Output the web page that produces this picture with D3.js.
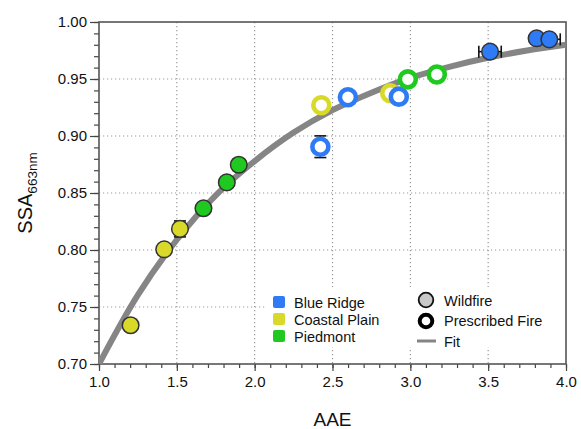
<!DOCTYPE html>
<html>
<head>
<meta charset="utf-8">
<script src="https://cdn.jsdelivr.net/npm/d3@7"></script>
<style>
  html, body { margin: 0; padding: 0; background: #fff; }
  svg { display: block; font-family: "Liberation Sans", Arial, Helvetica, sans-serif; }
</style>
</head>
<body>
<svg id="chart" width="581" height="429"></svg>
<script>
// ---- data ----
const regions = ["Blue Ridge", "Coastal Plain", "Piedmont"];
const regionColors = ["#2f7bf6", "#d9d92a", "#1fc91f"];
const fireTypes = ["Wildfire", "Prescribed Fire"];

const pointRegion = ["Coastal Plain", "Coastal Plain", "Coastal Plain", "Piedmont", "Piedmont", "Piedmont",
                     "Coastal Plain", "Coastal Plain", "Blue Ridge", "Blue Ridge", "Blue Ridge",
                     "Piedmont", "Piedmont", "Blue Ridge", "Blue Ridge", "Blue Ridge"];
const pointType = ["Wildfire", "Wildfire", "Wildfire", "Wildfire", "Wildfire", "Wildfire",
                   "Prescribed Fire", "Prescribed Fire", "Prescribed Fire", "Prescribed Fire", "Prescribed Fire",
                   "Prescribed Fire", "Prescribed Fire", "Wildfire", "Wildfire", "Wildfire"];
const aae = [1.203, 1.419, 1.52, 1.671, 1.821, 1.898,
             2.428, 2.871, 2.422, 2.599, 2.926,
             2.984, 3.17, 3.512, 3.811, 3.893];
const ssa = [0.734, 0.8006, 0.8185, 0.8366, 0.8593, 0.8748,
             0.927, 0.9375, 0.8906, 0.934, 0.9345,
             0.9497, 0.954, 0.974, 0.9857, 0.9848];
const aaeErr = [0, 0, 0, 0, 0, 0, 0, 0, 0, 0, 0, 0, 0, 0.072, 0, 0.07];
const ssaErr = [0, 0, 0.007, 0, 0, 0, 0, 0, 0.0095, 0, 0, 0, 0, 0, 0, 0];

const fitAAE = [1.0, 1.25, 1.5, 1.75, 2.0, 2.25, 2.5, 2.75, 3.0, 3.25, 3.5, 3.75, 4.0];
const fitSSA = [0.700, 0.7606, 0.809, 0.848, 0.878, 0.903, 0.9227, 0.938, 0.951, 0.9607, 0.9686, 0.975, 0.980];

const xTickValues = [1.0, 1.5, 2.0, 2.5, 3.0, 3.5, 4.0];
const yTickValues = [0.70, 0.75, 0.80, 0.85, 0.90, 0.95, 1.00];

// ---- layout ----
const svg = d3.select("#chart");
const pL = 99, pR = 566, pT = 22, pB = 364;
const x = d3.scaleLinear().domain([1.0, 4.0]).range([pL, pR]);
const y = d3.scaleLinear().domain([0.70, 1.00]).range([pB, pT]);
const color = d3.scaleOrdinal().domain(regions).range(regionColors);

// gridlines
const grid = svg.append("g").attr("stroke", "#9a9a9a").attr("stroke-width", 1.2)
  .attr("stroke-dasharray", "1.2,2.8");
grid.selectAll("line.v").data(xTickValues.slice(1, -1)).join("line")
  .attr("x1", d => x(d)).attr("x2", d => x(d)).attr("y1", pT).attr("y2", pB);
grid.selectAll("line.h").data(yTickValues.slice(1, -1)).join("line")
  .attr("x1", pL).attr("x2", pR).attr("y1", d => y(d)).attr("y2", d => y(d));

// legend background (covers gridlines)
svg.append("rect").attr("x", 265).attr("y", 287).attr("width", pR - 265 - 1).attr("height", 60)
  .attr("fill", "#fff");

// axes
const xAxisMinor = d3.axisBottom(x).tickValues(d3.range(1.0, 4.001, 0.1)).tickSize(4).tickFormat("");
const xAxis = d3.axisBottom(x).tickValues(xTickValues).tickSize(7).tickPadding(5).tickFormat(d3.format(".1f"));
const yAxisMinor = d3.axisLeft(y).tickValues(d3.range(0.70, 1.0001, 0.01)).tickSize(5).tickFormat("");
const yAxis = d3.axisLeft(y).tickValues(yTickValues).tickSize(9).tickPadding(3).tickFormat(d3.format(".2f"));

function styleAxis(g) {
  g.select(".domain").remove();
  g.selectAll("line").attr("stroke", "#444").attr("stroke-width", 1.2);
  g.selectAll("text").attr("fill", "#111").attr("font-size", 15)
   .attr("font-family", "'Liberation Sans', Arial, Helvetica, sans-serif");
}
svg.append("g").attr("transform", `translate(0,${pB})`).call(xAxisMinor).call(styleAxis);
svg.append("g").attr("transform", `translate(0,${pB})`).call(xAxis).call(styleAxis);
svg.append("g").attr("transform", `translate(${pL},0)`).call(yAxisMinor).call(styleAxis);
svg.append("g").attr("transform", `translate(${pL},0)`).call(yAxis).call(styleAxis);

// frame
svg.append("rect").attr("x", pL).attr("y", pT).attr("width", pR - pL).attr("height", pB - pT)
  .attr("fill", "none").attr("stroke", "#555").attr("stroke-width", 1.6);

// clip
svg.append("clipPath").attr("id", "plotclip").append("rect")
  .attr("x", pL).attr("y", pT).attr("width", pR - pL).attr("height", pB - pT);

// fit line
const fitData = fitAAE.map((a, i) => [a, fitSSA[i]]);
svg.append("path").datum(fitData)
  .attr("clip-path", "url(#plotclip)")
  .attr("fill", "none").attr("stroke", "#858585").attr("stroke-width", 6)
  .attr("d", d3.line().x(d => x(d[0])).y(d => y(d[1])).curve(d3.curveCatmullRom));

// points
const pts = aae.map((a, i) => ({a, s: ssa[i], region: pointRegion[i], type: pointType[i], ea: aaeErr[i], es: ssaErr[i]}));

// error bars
const eb = svg.append("g").attr("stroke", "#111").attr("stroke-width", 1.6);
pts.filter(p => p.ea > 0).forEach(p => {
  const y0 = y(p.s);
  eb.append("line").attr("x1", x(p.a - p.ea)).attr("x2", Math.min(x(p.a + p.ea), pR - 1)).attr("y1", y0).attr("y2", y0);
  [p.a - p.ea, p.a + p.ea].forEach(v => {
    const xv = Math.min(x(v), pR - 1.5);
    eb.append("line").attr("x1", xv).attr("x2", xv).attr("y1", y0 - 6).attr("y2", y0 + 6);
  });
});
pts.filter(p => p.es > 0).forEach(p => {
  const x0 = x(p.a);
  eb.append("line").attr("x1", x0).attr("x2", x0).attr("y1", y(p.s - p.es)).attr("y2", y(p.s + p.es));
  [p.s - p.es, p.s + p.es].forEach(v => {
    eb.append("line").attr("x1", x0 - 6).attr("x2", x0 + 6).attr("y1", y(v)).attr("y2", y(v));
  });
});

svg.append("g").selectAll("circle").data(pts).join("circle")
  .attr("cx", d => x(d.a)).attr("cy", d => y(d.s))
  .attr("r", d => d.type === "Wildfire" ? 8.3 : 8)
  .attr("fill", d => d.type === "Wildfire" ? color(d.region) : "#fff")
  .attr("stroke", d => d.type === "Wildfire" ? "#333" : color(d.region))
  .attr("stroke-width", d => d.type === "Wildfire" ? 1.5 : 4.6);

// legend: regions
const lg = svg.append("g");
regions.forEach((r, i) => {
  const cy = 302 + i * 17;
  lg.append("rect").attr("x", 273).attr("y", cy - 6).attr("width", 12).attr("height", 12).attr("rx", 2)
    .attr("fill", regionColors[i]);
  lg.append("text").attr("x", 294).attr("y", cy + 5.5).attr("font-size", 14.5).attr("fill", "#111").text(r);
});
// legend: fire types
lg.append("circle").attr("cx", 426).attr("cy", 300).attr("r", 7.3)
  .attr("fill", "#c8c8c8").attr("stroke", "#111").attr("stroke-width", 1.8);
lg.append("circle").attr("cx", 426).attr("cy", 321).attr("r", 6.3)
  .attr("fill", "#fff").attr("stroke", "#000").attr("stroke-width", 4);
lg.append("line").attr("x1", 417).attr("x2", 436).attr("y1", 341).attr("y2", 341)
  .attr("stroke", "#858585").attr("stroke-width", 3);
fireTypes.concat(["Fit"]).forEach((t, i) => {
  lg.append("text").attr("x", 444).attr("y", 305.5 + i * 20.5).attr("font-size", 14.5).attr("fill", "#111").text(t);
});

// axis titles
svg.append("text").attr("x", (pL + pR) / 2).attr("y", 426).attr("text-anchor", "middle")
  .attr("font-size", 19).attr("fill", "#111").text("AAE");
const yt = svg.append("text").attr("transform", `translate(32,${(pT + pB) / 2}) rotate(-90)`)
  .attr("text-anchor", "middle").attr("fill", "#111");
yt.append("tspan").attr("font-size", 20).text("SSA");
yt.append("tspan").attr("font-size", 13.5).attr("dy", 5).text("663nm");
</script>
</body>
</html>
